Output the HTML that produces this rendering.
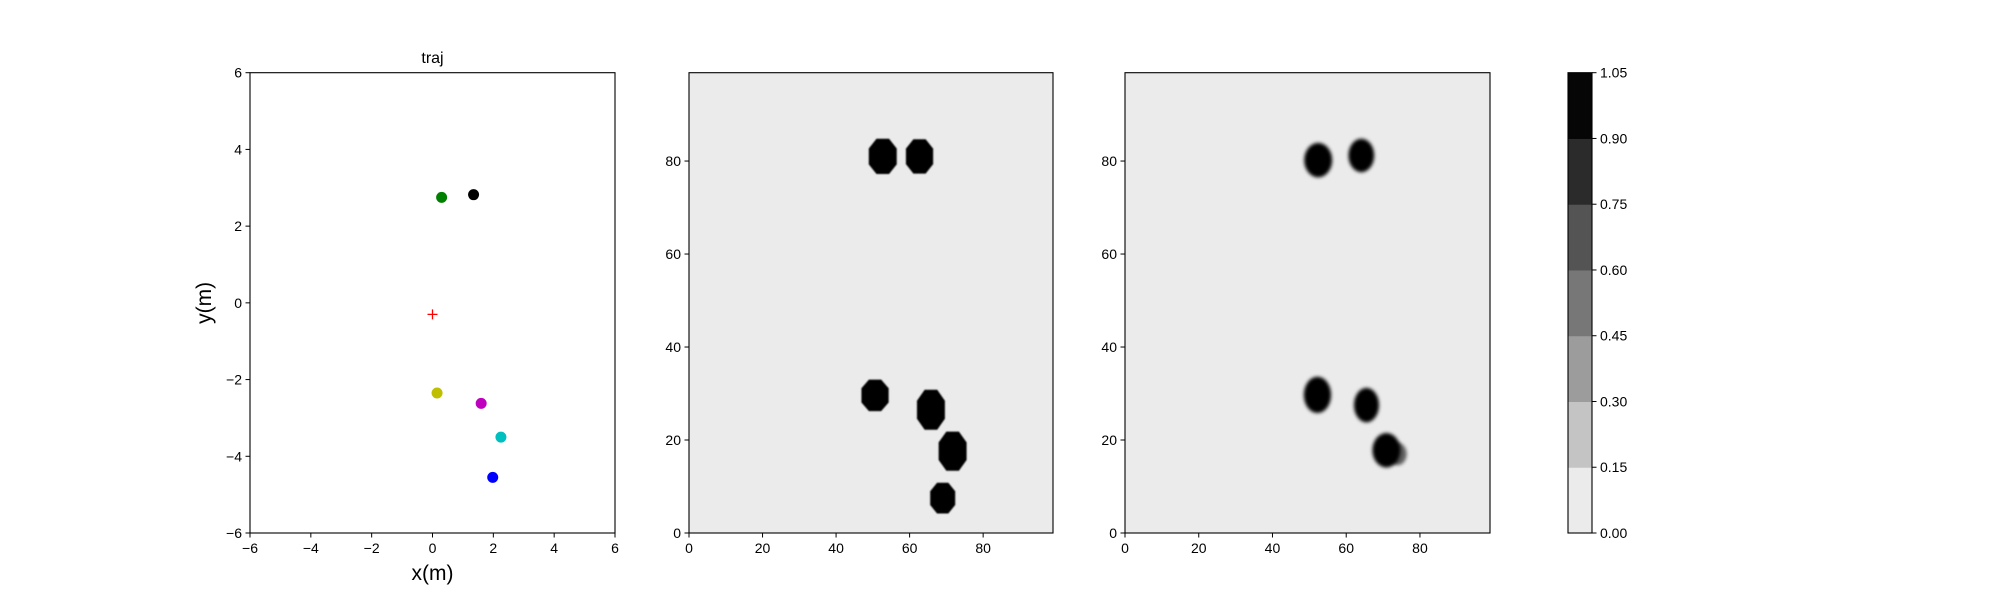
<!DOCTYPE html>
<html><head><meta charset="utf-8"><style>
body{margin:0;background:#fff;}
svg text{font-family:"Liberation Sans","DejaVu Sans",sans-serif;fill:#000;}
</style></head><body>
<svg id="fig" width="2000" height="600" viewBox="0 0 2000 600" xmlns="http://www.w3.org/2000/svg">
<defs>
<filter id="blur1" x="-50%" y="-50%" width="200%" height="200%"><feGaussianBlur stdDeviation="0.8"/></filter>
<filter id="blur2" x="-50%" y="-50%" width="200%" height="200%"><feGaussianBlur stdDeviation="1.8"/></filter>
</defs>
</svg>
<script>
// ---- data ----
const trajX=[0.3,1.35,0.15,1.6,2.25,1.98];
const trajY=[2.75,2.82,-2.35,-2.62,-3.5,-4.55];
const trajColors=['#008000','#000000','#bfbf00','#bf00bf','#00bfbf','#0000ff'];
const robotX=[0];
const robotY=[-0.3];
const trajTicks=[-6,-4,-2,0,2,4,6];
const mapTicks=[0,20,40,60,80];
const gtBlobX=[52.7,62.7,50.6,65.8,71.7,69.0];
const gtBlobY=[81.0,81.0,29.6,26.5,17.6,7.5];
const gtBlobRX=[3.8,3.7,3.7,3.8,3.8,3.4];
const gtBlobRY=[3.8,3.7,3.4,4.3,4.2,3.3];
const predBlobX=[52.4,64.1,52.2,65.5,70.9,74.0];
const predBlobY=[80.2,81.2,29.7,27.5,17.8,17.0];
const predBlobRX=[3.8,3.5,3.7,3.4,3.8,2.4];
const predBlobRY=[3.7,3.6,3.9,3.7,3.7,2.4];
const predBlobOp=[1,1,1,1,1,0.6];
const cbLevels=[0,0.15,0.30,0.45,0.60,0.75,0.90,1.05];
const cbColors=['#ebebeb','#c4c4c4','#9c9c9c','#777777','#545454','#2b2b2b','#060606'];

const NS='http://www.w3.org/2000/svg';
const svg=document.getElementById('fig');
function mk(tag,attrs,parent){const e=document.createElementNS(NS,tag);for(const k in attrs)e.setAttribute(k,attrs[k]);(parent||svg).appendChild(e);return e;}

const yTop=72.7,yBot=533;
const FS=14;
const ax1={l:250,r:615}, ax2={l:689,r:1053}, ax3={l:1125,r:1490};
const sx1=v=>ax1.l+(v+6)/12*(ax1.r-ax1.l);
const sy1=v=>yBot-(v+6)/12*(yBot-yTop);
function mapX(ax,v){return ax.l+v/99*(ax.r-ax.l);}
function mapY(v){return yBot-v/99*(yBot-yTop);}

// ---- axis 1 ----
const g1=mk('g',{});


trajX.forEach((x,i)=>{
  const c=mk('circle',{cx:sx1(x),cy:sy1(trajY[i]),r:5.5,fill:trajColors[i]},g1);
  
  
});
robotX.forEach((x,i)=>{
  const px=sx1(x),py=sy1(robotY[i]);
  const p=mk('path',{d:`M${px-5},${py}H${px+5}M${px},${py-5}V${py+5}`,stroke:'#ff0000','stroke-width':1.3},g1);
  
  
});
mk('rect',{x:ax1.l,y:yTop,width:ax1.r-ax1.l,height:yBot-yTop,fill:'none',stroke:'#000','stroke-width':1.1},g1);
trajTicks.forEach(t=>{
  const x=sx1(t),y=sy1(t);
  mk('line',{x1:x,x2:x,y1:yBot,y2:yBot+4.5,stroke:'#000'},g1);
  const tx=mk('text',{x:x,y:yBot+20,'font-size':FS,'text-anchor':'middle'},g1);tx.textContent=(t<0?'\u2212':'')+Math.abs(t);
  
  
  mk('line',{x1:ax1.l-4.5,x2:ax1.l,y1:y,y2:y,stroke:'#000'},g1);
  const ty=mk('text',{x:ax1.l-8,y:y+5,'font-size':FS,'text-anchor':'end'},g1);ty.textContent=(t<0?'\u2212':'')+Math.abs(t);
  
  
});
let tt=mk('text',{x:(ax1.l+ax1.r)/2,y:63,'font-size':16,'text-anchor':'middle'});tt.textContent='traj';


tt=mk('text',{x:(ax1.l+ax1.r)/2,y:580,'font-size':21,'text-anchor':'middle'});tt.textContent='x(m)';


tt=mk('text',{x:0,y:0,'font-size':21,'text-anchor':'middle',transform:`translate(211,${(yTop+yBot)/2}) rotate(-90)`});tt.textContent='y(m)';



// ---- map axes ----
function octagon(cx,cy,rx,ry){const k=0.45;return [[cx-k*rx,cy-ry],[cx+k*rx,cy-ry],[cx+rx,cy-k*ry],[cx+rx,cy+k*ry],[cx+k*rx,cy+ry],[cx-k*rx,cy+ry],[cx-rx,cy+k*ry],[cx-rx,cy-k*ry]].map(p=>p.join(',')).join(' ');}
function mapAxis(ax,name,draw){
  const g=mk('g',{});
  
  
  mk('rect',{x:ax.l,y:yTop,width:ax.r-ax.l,height:yBot-yTop,fill:'#ebebeb'},g);
  draw(g);
  mk('rect',{x:ax.l,y:yTop,width:ax.r-ax.l,height:yBot-yTop,fill:'none',stroke:'#000','stroke-width':1.1},g);
  mapTicks.forEach(v=>{
    const x=mapX(ax,v),y=mapY(v);
    mk('line',{x1:x,x2:x,y1:yBot,y2:yBot+4.5,stroke:'#000'},g);
    const tx=mk('text',{x:x,y:yBot+20,'font-size':FS,'text-anchor':'middle'},g);tx.textContent=v;
    
    
    mk('line',{x1:ax.l-4.5,x2:ax.l,y1:y,y2:y,stroke:'#000'},g);
    const ty=mk('text',{x:ax.l-8,y:y+5,'font-size':FS,'text-anchor':'end'},g);ty.textContent=v;
    
    
  });
}
const pxPerX=(ax2.r-ax2.l)/99, pxPerY=(yBot-yTop)/99;
mapAxis(ax2,'ground-truth-map',g=>{
  gtBlobX.forEach((x,i)=>{
    const p=mk('polygon',{points:octagon(mapX(ax2,x),mapY(gtBlobY[i]),gtBlobRX[i]*pxPerX,gtBlobRY[i]*pxPerY),fill:'#060606',filter:'url(#blur1)'},g);
    
    
  });
});
mapAxis(ax3,'predicted-map',g=>{
  predBlobX.forEach((x,i)=>{
    const e=mk('ellipse',{cx:mapX(ax3,x),cy:mapY(predBlobY[i]),rx:predBlobRX[i]*pxPerX,ry:predBlobRY[i]*pxPerY,fill:'#060606',opacity:predBlobOp[i],filter:'url(#blur2)'},g);
    
    
  });
});

// ---- colorbar ----
const cb={l:1568,r:1592};
const cbY=v=>yBot-(v-cbLevels[0])/(cbLevels[cbLevels.length-1]-cbLevels[0])*(yBot-yTop);
const gc=mk('g',{});


cbColors.forEach((c,i)=>{
  const y1=cbY(cbLevels[i+1]),y0=cbY(cbLevels[i]);
  const r=mk('rect',{x:cb.l,y:y1,width:cb.r-cb.l,height:y0-y1+0.5,fill:c},gc);
  
  
});
mk('rect',{x:cb.l,y:yTop,width:cb.r-cb.l,height:yBot-yTop,fill:'none',stroke:'#000','stroke-width':1.1},gc);
cbLevels.forEach(v=>{
  const y=cbY(v);
  mk('line',{x1:cb.r,x2:cb.r+4.5,y1:y,y2:y,stroke:'#000'},gc);
  const tx=mk('text',{x:cb.r+8,y:y+5,'font-size':FS},gc);tx.textContent=v.toFixed(2);
  
  
});
</script>
</body></html>
